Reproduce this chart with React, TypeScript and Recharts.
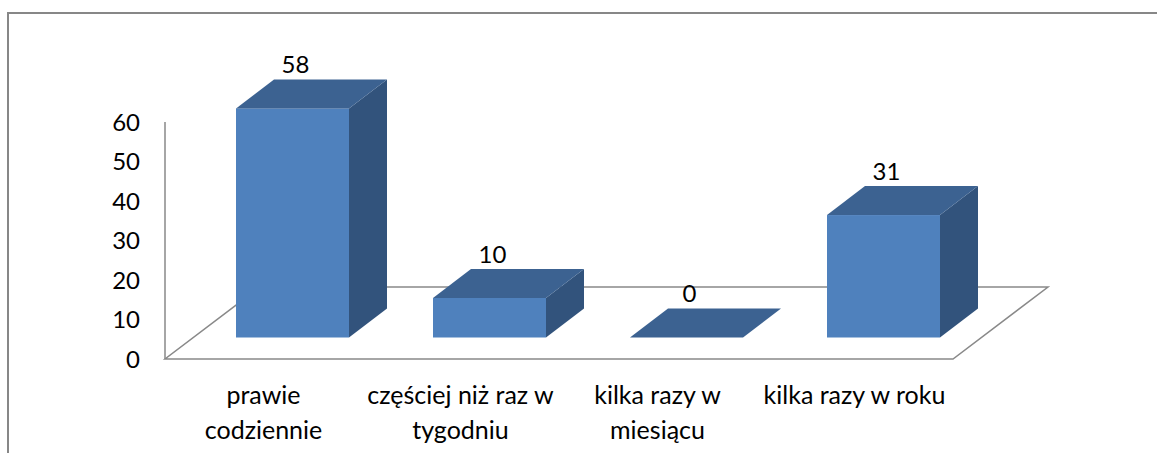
import React from "react";
import { BarChart, Bar, XAxis, YAxis, ReferenceLine, LabelList } from "recharts";

const categories = [
  "prawie\ncodziennie",
  "częściej niż raz w\ntygodniu",
  "kilka razy w\nmiesiącu",
  "kilka razy w roku",
];
const values = [58, 10, 0, 31];
const yTicks = [0, 10, 20, 30, 40, 50, 60];

const data = categories.map((name, i) => ({ name, value: values[i] }));

const FONT = "Lato, 'Open Sans', sans-serif";
const FRONT = "#4F81BD";
const TOP = "#3C6291";
const SIDE = "#32537C";
const LINE = "#898989";

// fake 3d: depth of the floor, where the bars sit in it, and the bar depth
const FLOOR_DX = 95;
const FLOOR_DY = -72;
const SHIFT_X = 29;
const SHIFT_Y = -21.5;
const BAR_DX = 38;
const BAR_DY = -29;

function Bar3D(props: any) {
  const { x, y, width, height } = props;
  const fx = x + SHIFT_X;
  const fy = y + SHIFT_Y;
  const h = Math.max(height || 0, 0);
  const w = width;
  const top = `${fx},${fy} ${fx + BAR_DX},${fy + BAR_DY} ${fx + w + BAR_DX},${fy + BAR_DY} ${fx + w},${fy}`;
  const side = `${fx + w},${fy} ${fx + w + BAR_DX},${fy + BAR_DY} ${fx + w + BAR_DX},${fy + h + BAR_DY} ${fx + w},${fy + h}`;
  return (
    <g>
      {h > 0 && <polygon points={side} fill={SIDE} />}
      {h > 0 && <rect x={fx} y={fy} width={w} height={h} fill={FRONT} />}
      <polygon points={top} fill={TOP} />
    </g>
  );
}

function Floor(props: any) {
  const { x1, y1, x2, y2 } = props;
  const pts = `${x1},${y1} ${x2},${y2} ${x2 + FLOOR_DX},${y2 + FLOOR_DY} ${x1 + FLOOR_DX},${y1 + FLOOR_DY}`;
  return <polygon points={pts} fill="none" stroke={LINE} strokeWidth={1.5} />;
}

function CategoryTick({ x, y, payload }: any) {
  const lines = String(payload.value).split("\n");
  return (
    <text x={x} y={y} textAnchor="middle" fontFamily={FONT} fontSize={25} fill="#000">
      {lines.map((l, i) => (
        <tspan key={i} x={x} y={y + 37 + i * 35}>
          {l}
        </tspan>
      ))}
    </text>
  );
}

function ValueLabel(props: any) {
  const { x, y, width, value } = props;
  return (
    <text
      x={x + SHIFT_X + width / 2 + 3}
      y={y + SHIFT_Y + BAR_DY - 16}
      textAnchor="middle"
      dominantBaseline="central"
      fontFamily={FONT}
      fontSize={24}
      fill="#000"
    >
      {value}
    </text>
  );
}

export default function App() {
  return (
    <div style={{ position: "absolute", left: 0, top: 0, width: 1157, height: 453, overflow: "hidden", background: "#fff" }}>
      <div
        style={{
          position: "absolute",
          left: 7,
          top: 12,
          width: 1300,
          height: 600,
          border: "2px solid #878787",
        }}
      />
      <div style={{ position: "absolute", left: 0, top: 0 }}>
        <BarChart
          width={1157}
          height={453}
          data={data}
          barSize={113}
          margin={{ top: 122, right: 204, bottom: 34, left: 105 }}
        >
          <ReferenceLine y={0} shape={Floor} zIndex={-10} />
          <XAxis dataKey="name" axisLine={false} tickLine={false} height={60} interval={0} tick={<CategoryTick />} />
          <YAxis
            domain={[0, 60]}
            ticks={yTicks}
            width={60}
            tickLine={false}
            tickMargin={19}
            axisLine={{ stroke: LINE, strokeWidth: 1.5 }}
            tick={{ fontFamily: FONT, fontSize: 24, fill: "#000" }}
          />
          <Bar dataKey="value" shape={Bar3D} isAnimationActive={false}>
            <LabelList dataKey="value" content={ValueLabel} />
          </Bar>
        </BarChart>
      </div>
    </div>
  );
}
